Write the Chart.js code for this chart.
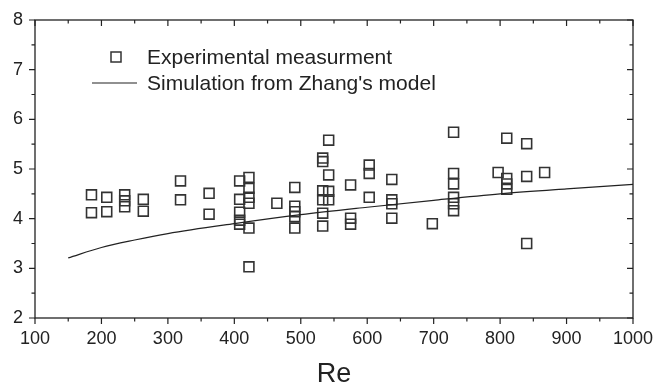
<!DOCTYPE html>
<html>
<head>
<meta charset="utf-8">
<script src="https://cdn.jsdelivr.net/npm/chart.js@4.4.1/dist/chart.umd.min.js"></script>
<style>
  html, body { margin: 0; padding: 0; background: #fff; }
  #wrap { width: 656px; height: 386px; position: relative; }
</style>
</head>
<body>
<div id="wrap"><canvas id="c" width="656" height="386"></canvas></div>
<script>
// Experimental measurement points (Re, value)
const expRe = [
  185, 185,
  208, 208,
  235, 235, 235,
  263, 263,
  319, 319,
  362, 362,
  408, 408, 408, 408, 408,
  422, 422, 422, 422, 422, 422,
  464,
  491, 491, 491, 491, 491,
  533, 533, 533, 533, 533, 533,
  542, 542, 542, 542,
  575, 575, 575,
  603, 603, 603,
  637, 637, 637, 637,
  698,
  730, 730, 730, 730, 730, 730,
  797,
  810, 810, 810, 810,
  840, 840, 840,
  867
];
const expVal = [
  4.48, 4.12,
  4.43, 4.14,
  4.48, 4.36, 4.24,
  4.39, 4.15,
  4.76, 4.38,
  4.51, 4.09,
  4.76, 4.39, 4.13, 3.97, 3.89,
  4.83, 4.61, 4.43, 4.31, 3.81, 3.03,
  4.31,
  4.63, 4.25, 4.14, 4.04, 3.81,
  5.22, 5.15, 4.56, 4.38, 4.11, 3.85,
  5.58, 4.88, 4.55, 4.38,
  4.68, 4.01, 3.89,
  5.08, 4.91, 4.43,
  4.79, 4.38, 4.30, 4.01,
  3.90,
  5.74, 4.91, 4.70, 4.43, 4.30, 4.16,
  4.93,
  5.62, 4.81, 4.70, 4.59,
  5.51, 4.85, 3.50,
  4.93
];
// Simulation from Zhang's model
const modelRe  = [150, 200, 250, 300, 400, 500, 600, 700, 800, 900, 1000];
const modelVal = [3.21, 3.42, 3.57, 3.70, 3.90, 4.08, 4.23, 4.37, 4.50, 4.60, 4.69];

const seriesNames = ["Experimental measurment", "Simulation from Zhang's model"];
const xTitle = "Re";
const xTicks = [100, 200, 300, 400, 500, 600, 700, 800, 900, 1000];
const yTicks = [2, 3, 4, 5, 6, 7, 8];

const FONT = "'Liberation Sans', Arial, Helvetica, sans-serif";
const INK = '#222';

const framePlugin = {
  id: 'frame',
  afterDraw(chart) {
    const ctx = chart.ctx;
    const a = chart.chartArea;
    const xs = chart.scales.x, ys = chart.scales.y;
    ctx.save();
    ctx.strokeStyle = INK;
    ctx.lineWidth = 1.3;
    ctx.strokeRect(a.left, a.top, a.right - a.left, a.bottom - a.top);
    ctx.lineWidth = 1.2;
    ctx.beginPath();
    for (let v = xTicks[0]; v <= xTicks[xTicks.length - 1]; v += 50) {
      const major = xTicks.includes(v);
      const px = xs.getPixelForValue(v);
      const L = major ? 6 : 3.5;
      ctx.moveTo(px, a.bottom); ctx.lineTo(px, a.bottom + L);
      ctx.moveTo(px, a.top); ctx.lineTo(px, a.top + L);
    }
    for (let v = yTicks[0]; v <= yTicks[yTicks.length - 1] + 1e-9; v += 0.5) {
      const major = yTicks.includes(v);
      const py = ys.getPixelForValue(v);
      const L = major ? 6 : 3.5;
      ctx.moveTo(a.left, py); ctx.lineTo(a.left - L, py);
      ctx.moveTo(a.right, py); ctx.lineTo(a.right - L, py);
    }
    ctx.stroke();

    // legend
    ctx.font = '21px ' + FONT;
    ctx.fillStyle = INK;
    ctx.textBaseline = 'middle';
    ctx.textAlign = 'left';
    ctx.lineWidth = 1.5;
    ctx.strokeStyle = '#333';
    ctx.strokeRect(111, 52, 10, 10);
    ctx.fillText(seriesNames[0], 147, 58);
    ctx.lineWidth = 1.2;
    ctx.strokeStyle = INK;
    ctx.beginPath();
    ctx.moveTo(92, 83); ctx.lineTo(137, 83);
    ctx.stroke();
    ctx.fillText(seriesNames[1], 147, 84);
    ctx.restore();
  }
};

new Chart(document.getElementById('c'), {
  type: 'scatter',
  data: {
    datasets: [
      {
        label: seriesNames[0],
        data: expRe.map((x, i) => ({ x, y: expVal[i] })),
        pointStyle: 'rect',
        pointRadius: 7,
        pointHoverRadius: 7,
        borderColor: '#333',
        borderWidth: 1.6,
        backgroundColor: 'rgba(0,0,0,0)',
        order: 2
      },
      {
        type: 'line',
        label: seriesNames[1],
        data: modelRe.map((x, i) => ({ x, y: modelVal[i] })),
        borderColor: INK,
        borderWidth: 1.2,
        pointRadius: 0,
        fill: false,
        cubicInterpolationMode: 'monotone',
        order: 1
      }
    ]
  },
  options: {
    responsive: false,
    animation: false,
    devicePixelRatio: 1,
    layout: { padding: { top: 20, right: 23, left: 0, bottom: 0 } },
    plugins: { legend: { display: false }, tooltip: { enabled: false } },
    scales: {
      x: {
        type: 'linear',
        min: 100, max: 1000,
        afterFit(s) { s.height = 68; s.paddingLeft = 0; s.paddingRight = 0; },
        afterBuildTicks(s) { s.ticks = xTicks.map(v => ({ value: v })); },
        grid: { display: false, drawTicks: false },
        border: { display: false },
        ticks: { color: INK, font: { family: FONT, size: 18 }, padding: 10, maxRotation: 0,
                 callback: v => String(v) },
        title: { display: true, text: xTitle, color: INK, font: { family: FONT, size: 27 }, padding: { top: 13, bottom: -5 } }
      },
      y: {
        type: 'linear',
        min: 2, max: 8,
        afterFit(s) { s.width = 35; s.paddingTop = 0; s.paddingBottom = 0; },
        afterBuildTicks(s) { s.ticks = yTicks.map(v => ({ value: v })); },
        grid: { display: false, drawTicks: false },
        border: { display: false },
        ticks: { color: INK, font: { family: FONT, size: 18 }, padding: 12, callback: v => String(v) }
      }
    }
  },
  plugins: [framePlugin]
});
</script>
</body>
</html>
